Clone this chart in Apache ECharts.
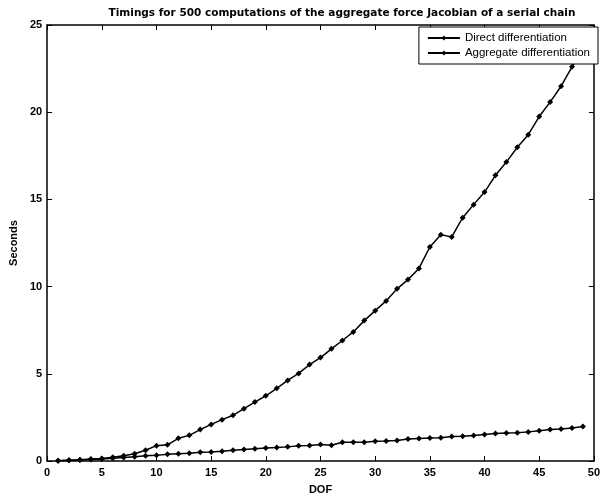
<!DOCTYPE html>
<html>
<head>
<meta charset="utf-8">
<script src="https://cdn.jsdelivr.net/npm/echarts@6/dist/echarts.min.js"></script>
<style>
  html, body { margin: 0; padding: 0; background: #fff; }
  #chart { width: 603px; height: 500px; }
</style>
</head>
<body>
<div id="chart"></div>
<script>
// DOF 1..49
const dof = []
for (let i = 1; i <= 49; i++) dof.push(i)

const directDiff = [
  0.02, 0.04, 0.07, 0.11, 0.15, 0.21, 0.3, 0.42, 0.62, 0.88,
  0.93, 1.3, 1.47, 1.8, 2.1, 2.37, 2.62, 3.0, 3.38, 3.74,
  4.17, 4.62, 5.02, 5.53, 5.93, 6.43, 6.91, 7.4, 8.05, 8.62,
  9.18, 9.87, 10.4, 11.04, 12.27, 12.98, 12.85, 13.95, 14.7, 15.42,
  16.38, 17.14, 17.99, 18.71, 19.75, 20.58, 21.49, 22.6, 23.6
]

const aggregateDiff = [
  0.02, 0.04, 0.06, 0.09, 0.12, 0.16, 0.2, 0.25, 0.3, 0.33,
  0.38, 0.41, 0.44, 0.5, 0.51, 0.56, 0.62, 0.66, 0.7, 0.75,
  0.77, 0.81, 0.88, 0.89, 0.95, 0.9, 1.07, 1.08, 1.08, 1.13,
  1.14, 1.18, 1.26, 1.29, 1.32, 1.33, 1.41, 1.42, 1.46, 1.52,
  1.57, 1.61, 1.62, 1.67, 1.74, 1.8, 1.84, 1.89, 1.98
]

const pair = (ys) => dof.map((x, i) => [x, ys[i]])

const font = 'Liberation Sans'
const tickFont = { color: '#000', fontFamily: font, fontSize: 11, fontWeight: 'bold' }

const boxAxis = {
  axisLine: { show: true, onZero: false, lineStyle: { color: '#000', width: 1.5 } },
  axisTick: { show: true, inside: true, length: 5, lineStyle: { color: '#000' } },
  splitLine: { show: false }
}

const chart = echarts.init(document.getElementById('chart'))
chart.setOption({
  backgroundColor: '#fff',
  animation: false,
  title: {
    text: 'Timings for 500 computations of the aggregate force Jacobian of a serial chain',
    left: 337,
    textAlign: 'center',
    top: 3,
    textStyle: { color: '#000', fontFamily: 'DejaVu Sans', fontSize: 10.5, fontWeight: 'bold' }
  },
  legend: {
    orient: 'vertical',
    right: 5,
    top: 27,
    itemWidth: 32,
    itemHeight: 6,
    itemGap: 3,
    padding: [5, 8, 5, 8],
    borderColor: '#000',
    borderWidth: 1,
    backgroundColor: '#fff',
    textStyle: { color: '#000', fontFamily: font, fontSize: 11.5 },
    data: ['Direct differentiation', 'Aggregate differentiation']
  },
  grid: { left: 44, right: 6, top: 25, bottom: 35 },
  xAxis: [
    Object.assign({
      type: 'value', min: 0, max: 50, interval: 5,
      name: 'DOF', nameLocation: 'middle', nameGap: 23,
      nameTextStyle: { color: '#000', fontFamily: font, fontSize: 11, fontWeight: 'bold' },
      axisLabel: Object.assign({ margin: 6 }, tickFont)
    }, boxAxis),
    Object.assign({
      type: 'value', min: 0, max: 50, interval: 5, position: 'top',
      axisLabel: { show: false }
    }, boxAxis)
  ],
  yAxis: [
    Object.assign({
      type: 'value', min: 0, max: 25, interval: 5,
      name: 'Seconds', nameLocation: 'middle', nameGap: 22,
      nameTextStyle: { color: '#000', fontFamily: font, fontSize: 11, fontWeight: 'bold' },
      axisLabel: Object.assign({ margin: 5 }, tickFont)
    }, boxAxis),
    Object.assign({
      type: 'value', min: 0, max: 25, interval: 5, position: 'right',
      axisLabel: { show: false }
    }, boxAxis)
  ],
  series: [
    {
      name: 'Direct differentiation',
      type: 'line',
      data: pair(directDiff),
      symbol: 'diamond',
      symbolSize: 6,
      itemStyle: { color: '#000' },
      lineStyle: { color: '#000', width: 1.5 }
    },
    {
      name: 'Aggregate differentiation',
      type: 'line',
      data: pair(aggregateDiff),
      symbol: 'diamond',
      symbolSize: 6,
      itemStyle: { color: '#000' },
      lineStyle: { color: '#000', width: 1.5 }
    }
  ]
})
</script>
</body>
</html>
